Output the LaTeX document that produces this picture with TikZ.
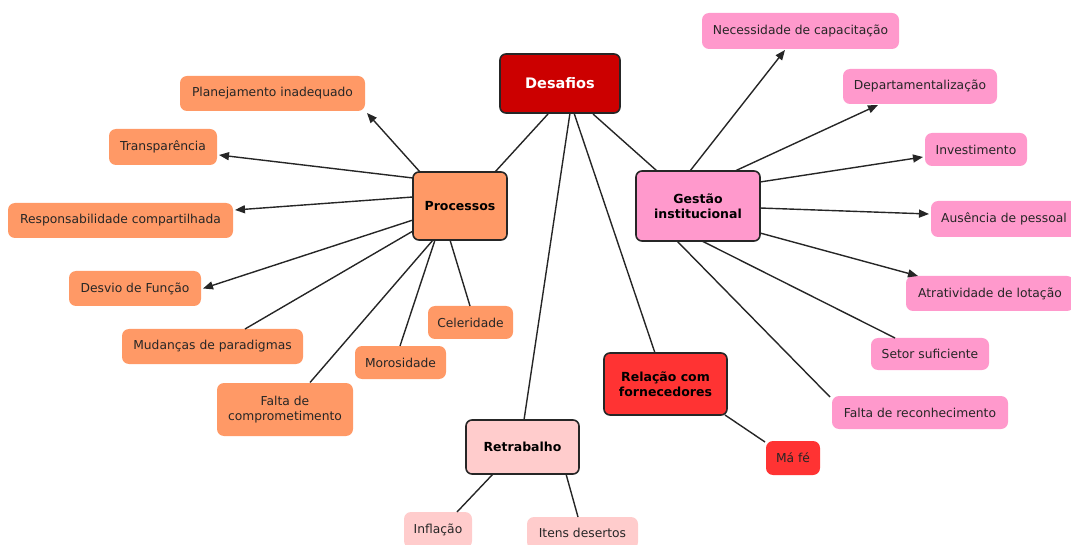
\documentclass[tikz,border=0pt]{standalone}
\usepackage{fontspec}
\setmainfont{DejaVu Sans}
\usetikzlibrary{arrows.meta}
\definecolor{orng}{HTML}{FF9966}
\definecolor{pnk}{HTML}{FF99CC}
\definecolor{rred}{HTML}{FF3333}
\definecolor{drd}{HTML}{CC0000}
\definecolor{lpk}{HTML}{FFCCCC}
\definecolor{edge}{HTML}{262626}
\tikzset{
  leaf/.style={rounded corners=7pt, inner sep=0pt, align=center, text=black!85,
    font=\fontsize{12.3}{15}\selectfont},
  hub/.style={draw=edge, line width=1.6pt, rounded corners=6pt, inner sep=0pt, align=center,
    font=\bfseries\fontsize{12.5}{15.5}\selectfont},
  conn/.style={line width=1.4pt, draw=edge},
  arr/.style={conn, -{Triangle[length=10pt,width=8pt]}},
  sz/.style n args={2}{minimum width=#1pt, minimum height=#2pt}
}
\begin{document}
\begin{tikzpicture}[x=1pt,y=-1pt]
\useasboundingbox (0,0) rectangle (1071,545);
\clip (0,0) rectangle (1071,545);
% hubs
\node[hub, fill=drd, text=white, sz={120}{59}, font=\bfseries\fontsize{14.5}{17}\selectfont] (desaf) at (560,83.5) {Desafios};
\node[hub, fill=orng, sz={94}{68}] (proc) at (460,206) {Processos};
\node[hub, fill=pnk, sz={124}{70}] (gest) at (698,206) {Gestão\\institucional};
\node[hub, fill=rred, sz={123}{62}] (rel) at (665.5,384) {Relação com\\fornecedores};
\node[hub, fill=lpk, sz={113}{54}] (retr) at (522.5,447) {Retrabalho};
% orange leaves
\node[leaf, fill=orng, sz={185}{35}] (plan) at (272.5,93.5) {Planejamento inadequado};
\node[leaf, fill=orng, sz={108}{36}] (trans) at (163,147) {Transparência};
\node[leaf, fill=orng, sz={225}{35}] (resp) at (120.5,220.5) {Responsabilidade compartilhada};
\node[leaf, fill=orng, sz={132}{35}] (desv) at (135,288.5) {Desvio de Função};
\node[leaf, fill=orng, sz={181}{35}] (mud) at (212.5,346.5) {Mudanças de paradigmas};
\node[leaf, fill=orng, sz={136}{53}] (falt) at (285,409.5) {Falta de\\comprometimento};
\node[leaf, fill=orng, sz={91}{33}] (moro) at (400.5,362.5) {Morosidade};
\node[leaf, fill=orng, sz={85}{33}] (cele) at (470.5,322.5) {Celeridade};
% pink leaves
\node[leaf, fill=pnk, sz={197}{36}] (nec) at (800.5,31) {Necessidade de capacitação};
\node[leaf, fill=pnk, sz={154}{35}] (dep) at (920,86.5) {Departamentalização};
\node[leaf, fill=pnk, sz={102}{33}] (inv) at (976,149.5) {Investimento};
\node[leaf, fill=pnk, sz={146}{36}] (aus) at (1004,219) {Ausência de pessoal};
\node[leaf, fill=pnk, sz={168}{35}] (atr) at (990,293.5) {Atratividade de lotação};
\node[leaf, fill=pnk, sz={118}{32}] (setor) at (930,354) {Setor suficiente};
\node[leaf, fill=pnk, sz={176}{33}] (frec) at (920,412.5) {Falta de reconhecimento};
% others
\node[leaf, fill=rred, sz={54}{34}] (mafe) at (793,458) {Má fé};
\node[leaf, fill=lpk, sz={68}{36}] (infl) at (438,530) {Inflação};
\node[leaf, fill=lpk, sz={111}{32}] (itens) at (582.5,533) {Itens desertos};
% connectors from Desafios
\draw[conn] ([shift={(-12,30.5)}]desaf.center) -- ([shift={(35,-34)}]proc.center);
\draw[conn] ([shift={(33,30.5)}]desaf.center) -- ([shift={(-41,-35)}]gest.center);
\draw[conn] ([shift={(10,29.5)}]desaf.center) -- ([shift={(1.5,-27)}]retr.center);
\draw[conn] ([shift={(14,29.5)}]desaf.center) -- ([shift={(-10.5,-31)}]rel.center);
% Processos
\draw[arr] ([shift={(-40,-34)}]proc.center) -- ([shift={(94.5,19.5)}]plan.center);
\draw[arr] ([shift={(-47,-28)}]proc.center) -- ([shift={(56,8)}]trans.center);
\draw[arr] ([shift={(-47,-9)}]proc.center) -- ([shift={(114.5,-10.5)}]resp.center);
\draw[arr] ([shift={(-47,14)}]proc.center) -- ([shift={(68,0)}]desv.center);
\draw[conn] ([shift={(-47,25)}]proc.center) -- ([shift={(32.5,-17.5)}]mud.center);
\draw[conn] ([shift={(-27,34)}]proc.center) -- ([shift={(25,-27)}]falt.center);
\draw[conn] ([shift={(-25,34)}]proc.center) -- ([shift={(-0.5,-16.5)}]moro.center);
\draw[conn] ([shift={(-10,34)}]proc.center) -- ([shift={(-0.5,-16.5)}]cele.center);
% Gestão
\draw[arr] ([shift={(-8,-35)}]gest.center) -- ([shift={(-15.5,19)}]nec.center);
\draw[arr] ([shift={(37,-35)}]gest.center) -- ([shift={(-42,18.5)}]dep.center);
\draw[arr] ([shift={(62,-24)}]gest.center) -- ([shift={(-53,7.5)}]inv.center);
\draw[arr] ([shift={(62,2)}]gest.center) -- ([shift={(-75,-5)}]aus.center);
\draw[arr] ([shift={(62,27)}]gest.center) -- ([shift={(-72,-17.5)}]atr.center);
\draw[conn] ([shift={(4,35)}]gest.center) -- ([shift={(-35,-16)}]setor.center);
\draw[conn] ([shift={(-21,35)}]gest.center) -- ([shift={(-90,-15.5)}]frec.center);
% Relação and Retrabalho
\draw[conn] ([shift={(59.5,31)}]rel.center) -- ([shift={(-28,-16)}]mafe.center);
\draw[conn] ([shift={(-29.5,27)}]retr.center) -- ([shift={(19,-18)}]infl.center);
\draw[conn] ([shift={(43.5,27)}]retr.center) -- ([shift={(-4.5,-16)}]itens.center);
\end{tikzpicture}
\end{document}
